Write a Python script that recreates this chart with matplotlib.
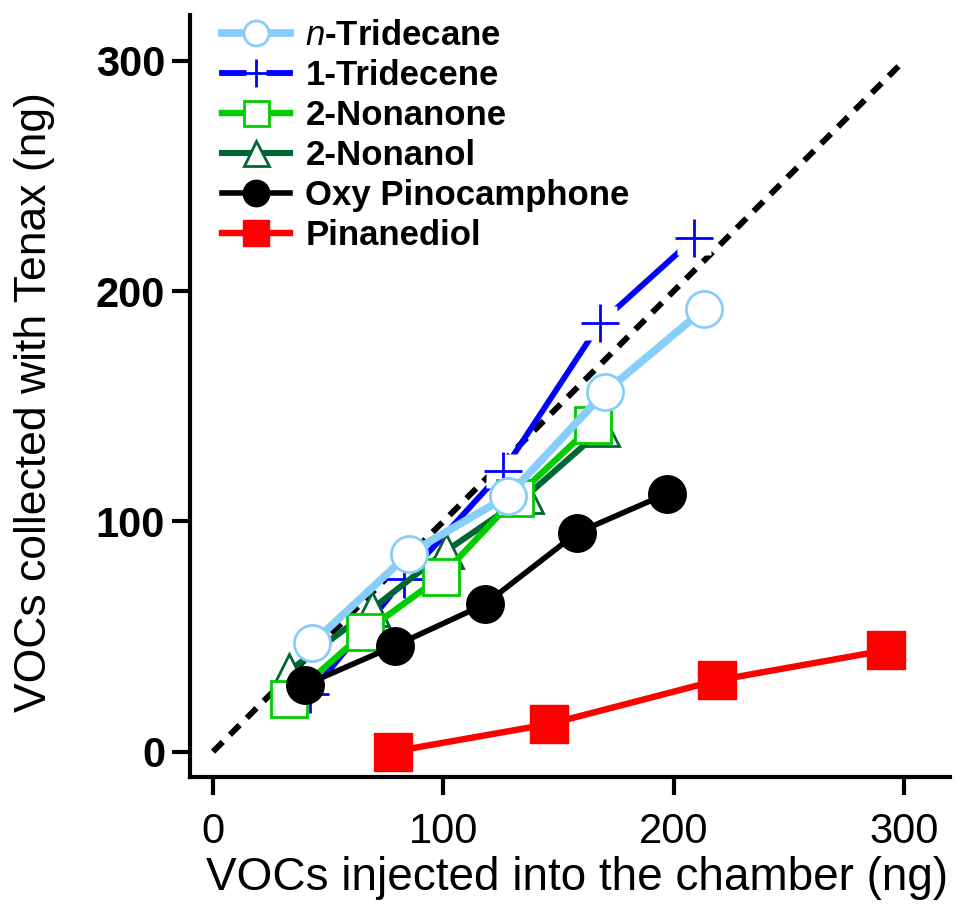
import matplotlib
matplotlib.use("Agg")
import matplotlib.pyplot as plt
from matplotlib.lines import Line2D
from matplotlib.legend_handler import HandlerTuple

plt.rcParams['font.family'] = ['Liberation Sans', 'DejaVu Sans']
plt.rcParams['mathtext.fontset'] = 'custom'
plt.rcParams['mathtext.it'] = 'Liberation Sans:italic'
plt.rcParams['mathtext.rm'] = 'Liberation Sans'

# injected (x) vs collected (y), ng
tridecane_x = [43, 85, 128, 170, 213]
tridecane_y = [47, 86, 111, 156, 192]
tridecene_x = [42, 83, 126, 168, 209]
tridecene_y = [25, 75, 122, 186, 223]
nonanone_x = [33, 66, 99, 131, 165]
nonanone_y = [23, 52, 76, 110, 142]
nonanol_x = [33, 69, 101, 136, 169]
nonanol_y = [35, 62, 87, 111, 140]
oxy_x = [40, 79, 118, 158, 197]
oxy_y = [29, 46, 64, 95, 112]
pinanediol_x = [78, 146, 219, 292]
pinanediol_y = [0, 12, 31, 44]

one_to_one = [0, 300]
ticks = [0, 100, 200, 300]

LW_SKY, LW_BLUE, LW_GREEN, LW_DKGREEN, LW_BLACK, LW_RED = 5.6, 4.2, 4.6, 4.4, 4.0, 4.6

fig = plt.figure(figsize=(9.67, 9.14), dpi=100)
ax = fig.add_axes([0.1965, 0.1499, 0.786, 0.834])

ax.plot(one_to_one, one_to_one, color='black', lw=4.3, ls=(0, (2.3, 1.7)),
        dash_capstyle='butt', zorder=1)

# 1-Tridecene: plus markers sit on a white patch that breaks the line
ax.plot(tridecene_x, tridecene_y, color='#0000ff', lw=LW_BLUE, zorder=2)
ax.plot(tridecene_x, tridecene_y, ls='none', marker='s', ms=24, mfc='white',
        mec='none', zorder=2.1)
ax.plot(tridecene_x, tridecene_y, ls='none', marker='+', ms=27, mew=2,
        color='#0000ff', zorder=2.2)

ax.plot(nonanol_x, nonanol_y, color='#006633', lw=LW_DKGREEN, marker='^', ms=24,
        mfc='white', mec='#006633', mew=2, zorder=3)
ax.plot(nonanone_x, nonanone_y, color='#00cc00', lw=LW_GREEN, marker='s', ms=26,
        mfc='white', mec='#00cc00', mew=2, zorder=4)
ax.plot(tridecane_x, tridecane_y, color='#87cefa', lw=LW_SKY, marker='o', ms=26,
        mfc='white', mec='#87cefa', mew=2, zorder=5)
ax.plot(oxy_x, oxy_y, color='black', lw=LW_BLACK, marker='o', ms=27,
        mfc='black', mec='black', zorder=6)
ax.plot(pinanediol_x, pinanediol_y, color='#ff0000', lw=LW_RED, marker='s',
        ms=27, mfc='#ff0000', mec='#ff0000', zorder=7)

ax.set_xlim(-10, 320)
ax.set_ylim(-11, 320)
ax.set_xticks(ticks)
ax.set_yticks(ticks)

for side in ['top', 'right']:
    ax.spines[side].set_visible(False)
for side in ['left', 'bottom']:
    ax.spines[side].set_linewidth(3)

ax.tick_params(axis='both', direction='out', length=13, width=3)
ax.tick_params(axis='x', pad=12, labelsize=30)
ax.tick_params(axis='y', pad=5, labelsize=30)
for lab in ax.get_yticklabels():
    lab.set_fontweight('bold')

ax.set_xlabel('VOCs injected into the chamber (ng)', fontsize=33, va='top')
ax.set_ylabel('VOCs collected with Tenax (ng)', fontsize=32)
ax.xaxis.set_label_coords(0.509, -0.103)
ax.yaxis.set_label_coords(-0.178, 0.492)

# legend handles
h_tridecane = Line2D([], [], color='#87cefa', lw=LW_SKY, marker='o', ms=18,
                     mfc='white', mec='#87cefa', mew=2)
h_tridecene = (Line2D([], [], color='#0000ff', lw=LW_BLUE),
               Line2D([], [], ls='none', marker='s', ms=14, mfc='white', mec='none'),
               Line2D([], [], ls='none', marker='+', ms=20, mew=2, color='#0000ff'))
h_nonanone = Line2D([], [], color='#00cc00', lw=LW_GREEN, marker='s', ms=18,
                    mfc='white', mec='#00cc00', mew=2)
h_nonanol = Line2D([], [], color='#006633', lw=LW_DKGREEN, marker='^', ms=18,
                   mfc='white', mec='#006633', mew=2)
h_oxy = Line2D([], [], color='black', lw=LW_BLACK, marker='o', ms=19, mfc='black')
h_pinanediol = Line2D([], [], color='#ff0000', lw=LW_RED, marker='s', ms=19,
                      mfc='#ff0000', mec='#ff0000')

labels = [r'$\it{n}$-Tridecane', '1-Tridecene', '2-Nonanone', '2-Nonanol',
          'Oxy Pinocamphone', 'Pinanediol']
ax.legend([h_tridecane, h_tridecene, h_nonanone, h_nonanol, h_oxy, h_pinanediol],
          labels, loc='upper left', bbox_to_anchor=(0.042, 0.994),
          frameon=False, borderpad=0, borderaxespad=0, labelspacing=0.2,
          handlelength=1.95, handletextpad=0.45,
          prop={'weight': 'bold', 'size': 25},
          handler_map={tuple: HandlerTuple(ndivide=1)})

fig.savefig('out.png', dpi=100)
